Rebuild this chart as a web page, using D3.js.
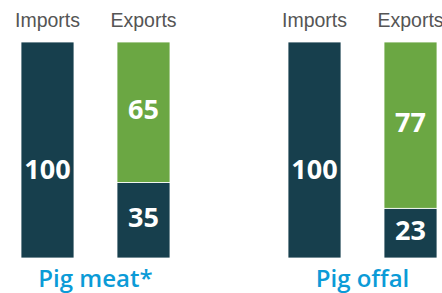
<!DOCTYPE html>
<html><head><meta charset="utf-8">
<script src="https://cdn.jsdelivr.net/npm/d3@7"></script>
<style>html,body{margin:0;padding:0;background:#fff;overflow:hidden}</style>
</head><body>
<script>
const categories = ["Pig meat*", "Pig offal"];
const flows = ["Imports", "Exports"];
const importValues = [100, 100];
const exportOwnValues = [65, 77];   // green part of exports
const exportImportValues = [35, 23]; // dark part of exports

const W = 442, H = 293;
const dark = "#173f4d", green = "#6ba743", blue = "#0b9bd7";

const svg = d3.select("body").append("svg").attr("width", W).attr("height", H);

const xGroup = d3.scaleBand().domain(categories).range([21, 437]).paddingInner(0.442).paddingOuter(0);
const xBar = d3.scaleBand().domain(flows).range([0, xGroup.bandwidth()]).paddingInner(0.448).paddingOuter(0);
const y = d3.scaleLinear().domain([0, 100]).range([258, 42]);

categories.forEach((cat, i) => {
  const g = svg.append("g").attr("transform", `translate(${xGroup(cat)},0)`);
  const segs = [
    {flow: "Imports", y0: 0, y1: importValues[i], color: dark, label: importValues[i], type: "imp"},
    {flow: "Exports", y0: 0, y1: exportImportValues[i], color: dark, label: exportImportValues[i], type: "exp"},
    {flow: "Exports", y0: exportImportValues[i], y1: exportImportValues[i] + exportOwnValues[i], color: green, label: exportOwnValues[i], type: "exp"}
  ];
  g.selectAll("rect").data(segs).join("rect")
    .attr("x", d => xBar(d.flow))
    .attr("width", xBar.bandwidth())
    .attr("y", d => y(d.y1))
    .attr("height", d => y(d.y0) - y(d.y1))
    .attr("fill", d => d.color)
    .attr("stroke", "#fff").attr("stroke-width", 0.8);
  g.selectAll("text.val").data(segs).join("text").attr("class", "val")
    .attr("x", d => xBar(d.flow) + xBar.bandwidth() / 2)
    .attr("y", d => d.type === "imp" ? y(41) : (y(d.y0) + y(d.y1)) / 2 - 3)
    .attr("dy", "0.36em")
    .attr("text-anchor", "middle")
    .attr("fill", "#fff")
    .style("font-family", "'Open Sans', sans-serif")
    .style("font-weight", 700)
    .style("font-size", "27px")
    .text(d => d.label);
  g.selectAll("text.hdr").data(flows).join("text").attr("class", "hdr")
    .attr("x", d => xBar(d) + xBar.bandwidth() / 2)
    .attr("y", 27)
    .attr("text-anchor", "middle")
    .attr("fill", "#555")
    .style("font-family", "'Liberation Sans', Arial, sans-serif")
    .style("font-size", "19.5px")
    .text(d => d);
  g.append("text")
    .attr("x", xGroup.bandwidth() / 2)
    .attr("y", 287)
    .attr("text-anchor", "middle")
    .attr("fill", blue)
    .style("font-family", "'Open Sans', sans-serif")
    .style("font-weight", 600)
    .style("font-size", "24px")
    .text(cat);
});
</script>
</body></html>
